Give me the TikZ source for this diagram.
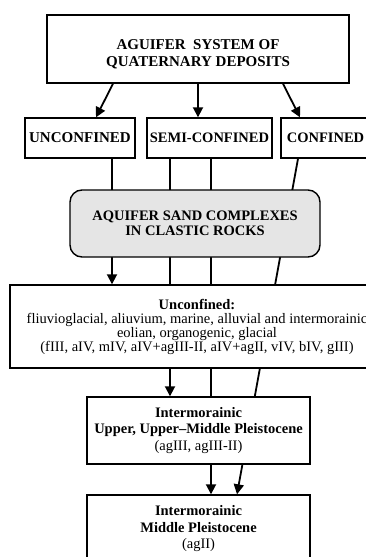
\documentclass[tikz,border=0pt]{standalone}
\usepackage{fontspec}
\setmainfont{Liberation Serif}
\usepackage{tikz}
\usetikzlibrary{arrows.meta, backgrounds}

\begin{document}
\begin{tikzpicture}[x=1pt,y=-1pt,
    box/.style={draw, line width=1.4pt, fill=white, inner sep=0pt, align=center},
    sandbox/.style={box, fill=black!10, rounded corners=12pt},
    link/.style={line width=1.8pt},
    arrow/.style={link, -{Triangle[length=10pt,width=10pt]}}]
    \useasboundingbox (0,0) rectangle (366,557);
    \clip (0,0) rectangle (366,557);

    \node[box, minimum width=302pt, minimum height=68pt,
          font=\fontsize{15}{17}\selectfont\bfseries] (system) at (198,49)
          {\rule{0pt}{21pt}AGUIFER\ \ SYSTEM OF\\QUATERNARY DEPOSITS};
    \node[box, minimum width=110pt, minimum height=40pt,
          font=\fontsize{15}{17}\selectfont\bfseries] (unconf) at (80,138) {UNCONFINED};
    \node[box, minimum width=125pt, minimum height=40pt,
          font=\fontsize{14.5}{17}\selectfont\bfseries] (semi) at (209.5,138) {SEMI-CONFINED};
    \node[box, minimum width=95pt, minimum height=40pt,
          font=\fontsize{14.5}{17}\selectfont\bfseries] (conf) at (328.5,138) {CONFINED\hspace{6pt}};
    \node[sandbox, minimum width=250pt, minimum height=67pt,
          font=\fontsize{14.5}{15}\selectfont\bfseries] (sand) at (195,223.5)
          {AQUIFER SAND COMPLEXES\\IN CLASTIC ROCKS};
    \node[box, minimum width=374pt, minimum height=83pt,
          font=\fontsize{14.5}{14}\selectfont] (uncdesc) at (197,326.5)
          {\textbf{Unconfined:}\\
           fliuvioglacial, aliuvium, marine, alluvial and intermorainic\\
           eolian, organogenic, glacial\\
           (fIII, aIV, mIV, aIV+agIII-II, aIV+agII, vIV, bIV, gIII)};
    \node[box, minimum width=223pt, minimum height=67pt,
          font=\fontsize{14.5}{16.5}\selectfont] (upper) at (198.5,430.5)
          {\textbf{Intermorainic}\\\textbf{Upper, Upper--Middle Pleistocene}\\(agIII, agIII-II)};
    \node[box, minimum width=223pt, minimum height=68pt,
          font=\fontsize{14.5}{16.5}\selectfont] (middle) at (198.5,529)
          {\textbf{Intermorainic}\\\textbf{Middle Pleistocene}\\(agII)};

    \begin{scope}[on background layer]
        \draw[arrow] ([xshift=-85pt]system.south) -- ([xshift=16pt]unconf.north);
        \draw[arrow] (system.south) -- ([xshift=-11.5pt]semi.north);
        \draw[arrow] ([xshift=85pt]system.south) -- ([xshift=-28.5pt]conf.north);
        % lines running on behind the boxes
        \draw[arrow] ([xshift=32pt]unconf.south) coordinate (u1) -- (u1 |- uncdesc.north);
        \draw[arrow] ([xshift=-39.5pt]semi.south) coordinate (s1) -- (s1 |- upper.north);
        \draw[arrow] ([xshift=1.5pt]semi.south) coordinate (s2) -- (s2 |- middle.north);
        \draw[arrow] ([xshift=-30.5pt]conf.south) -- ([xshift=38.5pt]middle.north);
    \end{scope}
\end{tikzpicture}
\end{document}
